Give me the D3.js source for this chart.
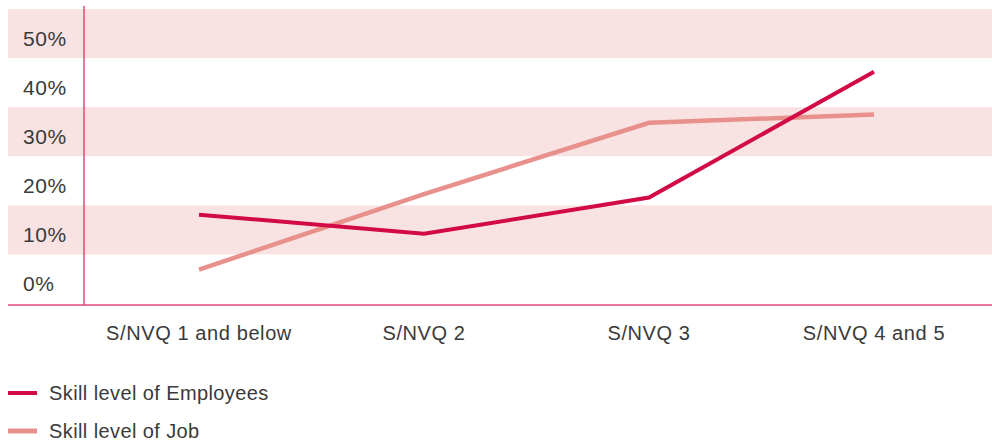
<!DOCTYPE html>
<html>
<head>
<meta charset="utf-8">
<script src="https://cdn.jsdelivr.net/npm/d3@7"></script>
<style>
  body { margin: 0; background: #fff; }
  text { font-family: "Liberation Sans", Arial, sans-serif; fill: #3a3a3a; }
</style>
</head>
<body>
<div id="chart"></div>
<script>
// data
const categories = ["S/NVQ 1 and below", "S/NVQ 2", "S/NVQ 3", "S/NVQ 4 and 5"];
const employees = [13.1, 9.2, 16.6, 42.2];
const jobs = [1.9, 17.3, 31.8, 33.5];
const yTicks = [0, 10, 20, 30, 40, 50];
const seriesNames = ["Skill level of Employees", "Skill level of Job"];
const seriesColors = ["#d20a45", "#e8908c"];

const width = 992, height = 441;

const svg = d3.select("#chart")
  .append("svg")
    .attr("width", width)
    .attr("height", height);

// scales
const x = d3.scalePoint()
  .domain(categories)
  .range([199, 874]);

const y = d3.scaleLinear()
  .domain([0, 50])
  .range([279, 33.5]);

const step = y(0) - y(10);

// alternating bands behind the grid
svg.append("g")
  .selectAll("rect")
  .data(yTicks.filter(d => d % 20 === 10))
  .join("rect")
    .attr("x", 8)
    .attr("width", width - 8)
    .attr("y", d => y(d) - step / 2)
    .attr("height", step)
    .attr("fill", "#f9e3e2");

// y labels
svg.append("g")
  .selectAll("text")
  .data(yTicks)
  .join("text")
    .attr("x", 23)
    .attr("y", d => y(d) + 12)
    .attr("font-size", 21)
    .attr("letter-spacing", 0.6)
    .text(d => d + "%");

// axis lines
svg.append("line")
  .attr("x1", 84).attr("x2", 84)
  .attr("y1", 6).attr("y2", 305)
  .attr("stroke", "#e0487a")
  .attr("stroke-width", 1.5);

svg.append("line")
  .attr("x1", 8).attr("x2", width)
  .attr("y1", 305).attr("y2", 305)
  .attr("stroke", "#e0487a")
  .attr("stroke-width", 1.5);

// category labels
svg.append("g")
  .selectAll("text")
  .data(categories)
  .join("text")
    .attr("x", d => x(d))
    .attr("y", 340)
    .attr("text-anchor", "middle")
    .attr("font-size", 20)
    .attr("letter-spacing", 0.6)
    .text(d => d);

// lines
const line = d3.line()
  .x((d, i) => x(categories[i]))
  .y(d => y(d));

svg.append("path")
  .datum(jobs)
  .attr("fill", "none")
  .attr("stroke", seriesColors[1])
  .attr("stroke-width", 4.5)
  .attr("d", line);

svg.append("path")
  .datum(employees)
  .attr("fill", "none")
  .attr("stroke", seriesColors[0])
  .attr("stroke-width", 4)
  .attr("d", line);

// legend
const legend = svg.append("g")
  .selectAll("g")
  .data(seriesNames)
  .join("g")
    .attr("transform", (d, i) => `translate(8, ${393 + i * 38})`);

legend.append("line")
  .attr("x1", 0).attr("x2", 29)
  .attr("stroke", (d, i) => seriesColors[i])
  .attr("stroke-width", (d, i) => i === 0 ? 4 : 5);

legend.append("text")
  .attr("x", 41)
  .attr("y", 7)
  .attr("font-size", 20)
  .attr("letter-spacing", 0.4)
  .text(d => d);
</script>
</body>
</html>
